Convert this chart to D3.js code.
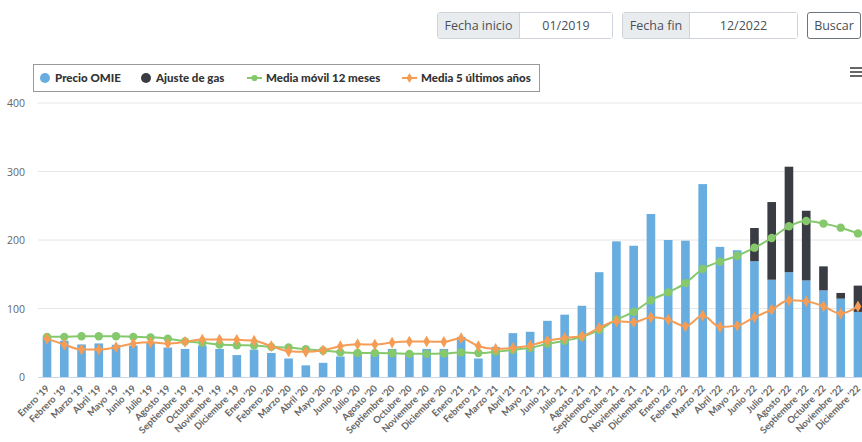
<!DOCTYPE html>
<html lang="es">
<head>
<meta charset="utf-8">
<script src="https://cdn.jsdelivr.net/npm/d3@7"></script>
<style>
  html, body { margin: 0; padding: 0; background: #fff; }
  body { width: 862px; height: 442px; position: relative; overflow: hidden; font-family: "Open Sans", sans-serif; }
  .grp { position: absolute; top: 12px; height: 27px; display: flex; border: 1px solid #ced4da; border-radius: 3px; box-sizing: border-box; font-size: 12.5px; color: #495057; white-space: nowrap; }
  .grp .lab { background: #e9ecef; border-right: 1px solid #ced4da; display: flex; align-items: center; justify-content: center; box-sizing: border-box; }
  .grp .val { flex: 1; display: flex; align-items: center; justify-content: center; background: #fff; }
  .btn { position: absolute; top: 12px; left: 807px; width: 54px; height: 27px; border: 1px solid #6c757d; border-radius: 3px; box-sizing: border-box; font-size: 12.5px; color: #495057; display: flex; align-items: center; justify-content: center; }
  svg { position: absolute; left: 0; top: 0; }
</style>
</head>
<body>
<div class="grp" style="left:437px;width:176px;"><div class="lab" style="width:82px;">Fecha inicio</div><div class="val">01/2019</div></div>
<div class="grp" style="left:622px;width:176px;"><div class="lab" style="width:67px;">Fecha fin</div><div class="val">12/2022</div></div>
<div class="btn">Buscar</div>
<svg id="chart" width="862" height="442"></svg>
<script>
// Monthly categories, Jan 2019 – Dec 2022
const months = ["Enero","Febrero","Marzo","Abril","Mayo","Junio","Julio","Agosto","Septiembre","Octubre","Noviembre","Diciembre"];
const years = ["'19","'20","'21","'22"];
const categories = years.flatMap(y => months.map(m => m + " " + y));

// Precio OMIE (€/MWh)
const precioOMIE = [
  59.5, 53, 47.5, 49, 47, 46, 51, 43, 41, 46, 41, 32,
  40, 35, 27, 17, 20.7, 30, 35, 35, 41, 35, 41, 41,
  58.6, 27, 44, 64, 66, 82, 91, 104, 153, 198, 191.6, 238,
  200, 199, 281.6, 190, 185, 169, 142, 153, 141, 126.5, 114.4, 95
];
// Ajuste de gas (€/MWh), stacked on top of the OMIE price
const ajusteGas = [
  0,0,0,0,0,0,0,0,0,0,0,0,
  0,0,0,0,0,0,0,0,0,0,0,0,
  0,0,0,0,0,0,0,0,0,0,0,0,
  0,0,0,0,0, 48.5, 113.4, 154, 101.7, 35, 8.3, 38.4
];
// Media móvil 12 meses
const mediaMovil = [
  58.6, 58.6, 59.5, 59.5, 59.5, 58.6, 57.9, 56, 52, 50, 47.4, 46.4,
  46, 44, 43, 40.5, 38.6, 36, 35, 35, 34.7, 33.8, 33.8, 34.2,
  36, 35, 37, 39.6, 42.5, 48.4, 53, 58.6, 68.8, 83.8, 95, 112,
  123.6, 137, 157.7, 168.4, 177, 188.8, 202.9, 220, 227.7, 224, 218, 209.6
];
// Media 5 últimos años
const media5 = [
  55.7, 47.4, 40, 40, 43.5, 48.8, 50.7, 48.8, 51.3, 54.7, 54.7, 54.2,
  53, 45, 37.6, 36.7, 39, 45, 47.8, 47.4, 50.3, 51.7, 51.9, 51.3,
  56.6, 45, 41, 42.5, 46, 53, 57, 59.5, 71.7, 81.4, 80, 87.2,
  83.8, 74, 89.6, 73, 75, 87.2, 98.4, 112, 110.5, 103.2, 92.6, 103
];
const yTicks = [0, 100, 200, 300, 400];

const colors = { omie: "#68ade0", gas: "#393c42", movil: "#85c96c", media5: "#f59c55" };

const svg = d3.select("#chart");
const x = d3.scaleBand().domain(categories).range([38.4, 866.6]).paddingInner(0.5).paddingOuter(0.25);
const y = d3.scaleLinear().domain([0, 400]).range([377, 103]);
const cx = d => x(d) + x.bandwidth() / 2;

// Grid lines and y labels
const gy = svg.append("g");
gy.selectAll("line").data(yTicks.filter(t => t > 0)).join("line")
  .attr("x1", 38).attr("x2", 862).attr("y1", d => y(d)).attr("y2", d => y(d))
  .attr("stroke", "#e6e6e6").attr("stroke-width", 1);
gy.selectAll("text").data(yTicks).join("text")
  .attr("x", 25).attr("y", d => y(d) + 4).attr("text-anchor", "end")
  .attr("font-family", "Open Sans, sans-serif").attr("font-size", 10.5).attr("fill", "#666")
  .text(d => d);

// Stacked bars
const stackData = categories.map((c, i) => ({ c, omie: precioOMIE[i], gas: ajusteGas[i] }));
const series = d3.stack().keys(["omie", "gas"])(stackData);
svg.append("g").selectAll("g").data(series).join("g")
  .attr("fill", s => colors[s.key])
  .selectAll("rect").data(s => s.filter(d => d[1] - d[0] > 0)).join("rect")
  .attr("x", d => x(d.data.c)).attr("width", x.bandwidth())
  .attr("y", d => y(d[1])).attr("height", d => y(d[0]) - y(d[1]));

// X axis baseline
svg.append("line").attr("x1", 38).attr("x2", 862).attr("y1", 377.5).attr("y2", 377.5)
  .attr("stroke", "#ccd6eb").attr("stroke-width", 1);

// Lines with markers
function drawLine(values, color, symbolType, size) {
  const pts = categories.map((c, i) => [cx(c), y(values[i])]);
  svg.append("path").attr("d", d3.line().curve(d3.curveMonotoneX)(pts))
    .attr("fill", "none").attr("stroke", color).attr("stroke-width", 2);
  svg.append("g").selectAll("path").data(pts).join("path")
    .attr("transform", p => `translate(${p[0]},${p[1]})`)
    .attr("d", d3.symbol().type(symbolType).size(size)())
    .attr("fill", color);
}
drawLine(mediaMovil, colors.movil, d3.symbolCircle, 55);
drawLine(media5, colors.media5, d3.symbolDiamond, 40);

// X labels, rotated
svg.append("g").selectAll("text").data(categories).join("text")
  .attr("transform", d => `translate(${cx(d) + 3},${389}) rotate(-45)`)
  .attr("text-anchor", "end")
  .attr("font-family", "Lato, sans-serif").attr("font-weight", "bold")
  .attr("font-size", 9.5).attr("fill", "#666")
  .text(d => d);

// Legend
const lg = svg.append("g");
lg.append("rect").attr("x", 33.5).attr("y", 64.5).attr("width", 506).attr("height", 27)
  .attr("fill", "#fff").attr("stroke", "#999");
const legendItems = [
  { label: "Precio OMIE", color: colors.omie, kind: "dot", x: 45 },
  { label: "Ajuste de gas", color: colors.gas, kind: "dot", x: 146 },
  { label: "Media móvil 12 meses", color: colors.movil, kind: "line", sym: d3.symbolCircle, x: 247 },
  { label: "Media 5 últimos años", color: colors.media5, kind: "line", sym: d3.symbolDiamond, x: 402 }
];
legendItems.forEach(it => {
  const g = lg.append("g");
  let tx;
  if (it.kind === "dot") {
    g.append("circle").attr("cx", it.x).attr("cy", 78).attr("r", 5).attr("fill", it.color);
    tx = it.x + 10;
  } else {
    g.append("line").attr("x1", it.x).attr("x2", it.x + 15).attr("y1", 78).attr("y2", 78)
      .attr("stroke", it.color).attr("stroke-width", 2);
    g.append("path").attr("transform", `translate(${it.x + 7.5},78)`)
      .attr("d", d3.symbol().type(it.sym).size(30)()).attr("fill", it.color);
    tx = it.x + 19;
  }
  g.append("text").attr("x", tx).attr("y", 82).attr("font-family", "Lato, sans-serif")
    .attr("font-weight", "900").attr("font-size", 11.5).attr("fill", "#333").text(it.label);
});

// Context menu icon
svg.append("g").selectAll("rect").data([0, 1, 2]).join("rect")
  .attr("x", 850).attr("y", d => 67 + d * 4).attr("width", 12).attr("height", 2).attr("fill", "#666");
</script>
</body>
</html>
